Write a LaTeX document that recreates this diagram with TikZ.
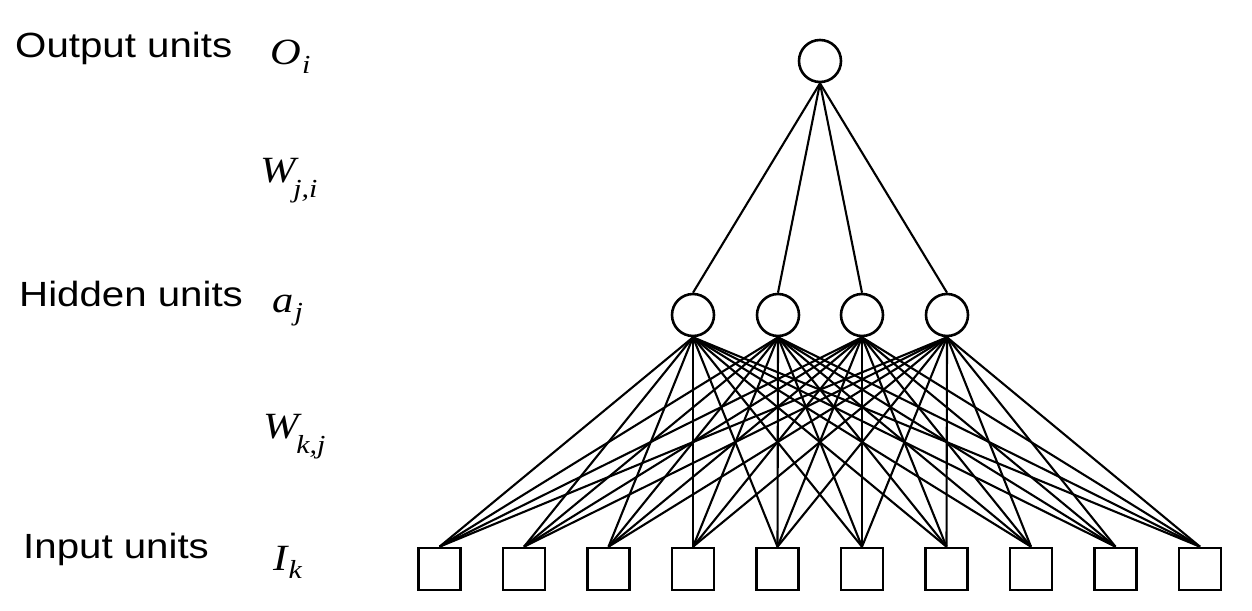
\documentclass[tikz,border=0pt]{standalone}
\usepackage{graphicx}
\usepackage{fontspec}
\setmainfont{Liberation Sans}
\newfontfamily\tms{Liberation Serif}
\tikzset{
  unit/.style={draw, circle, line width=2.6pt, minimum size=42pt, inner sep=0pt},
  inunit/.style={draw, rectangle, line width=2.6pt, minimum size=42pt, inner sep=0pt},
  conn/.style={line width=2.1pt},
  lbl/.style={anchor=base west, inner sep=0pt, font=\fontsize{35}{40}\selectfont},
  sym/.style={anchor=base west, inner sep=0pt, font=\tms\itshape\fontsize{37}{42}\selectfont},
}
\newcommand{\subsc}[2]{\raisebox{-#1pt}{\fontsize{26}{30}\selectfont #2}}
\newcommand{\stretchx}[1]{\scalebox{1.15}[1]{#1}}
\begin{document}
\begin{tikzpicture}[x=1pt,y=-1pt]
\useasboundingbox (0,0) rectangle (1252,610);
% labels
\node[lbl] (lo) at (15,57) {\stretchx{Output units}};
\node[lbl] (lh) at (19,306) {\stretchx{Hidden units}};
\node[lbl] (li) at (23,558) {\stretchx{Input units}};
\node[sym] (so) at (270,65) {\stretchx{O\kern1pt\subsc{9}{i}}};
\node[sym] (sw1) at (260,182) {\stretchx{W\kern-2pt\subsc{15}{j,i}}};
\node[sym] (sa) at (272,312) {\stretchx{a\kern1pt\subsc{8}{j}}};
\node[sym] (sw2) at (263,438) {\stretchx{W\kern-2pt\subsc{15}{k,j}}};
\node[sym] (si) at (273,570) {\stretchx{I\kern1pt\subsc{8}{k}}};
% units
\node[unit] (o) at (820,61) {};
\foreach \i/\x in {1/693,2/778,3/862,4/947} {
  \node[unit] (h\i) at (\x,315) {};
}
\foreach \k in {0,...,9} {
  \node[inunit] (in\k) at ({439.5+84.5*\k},569) {};
}
% connectors
\foreach \i in {1,...,4} {
  \draw[conn] (o.south) -- (h\i.north);
  \foreach \k in {0,...,9} {
    \draw[conn] (h\i.south) -- (in\k.north);
  }
}
\end{tikzpicture}
\end{document}
